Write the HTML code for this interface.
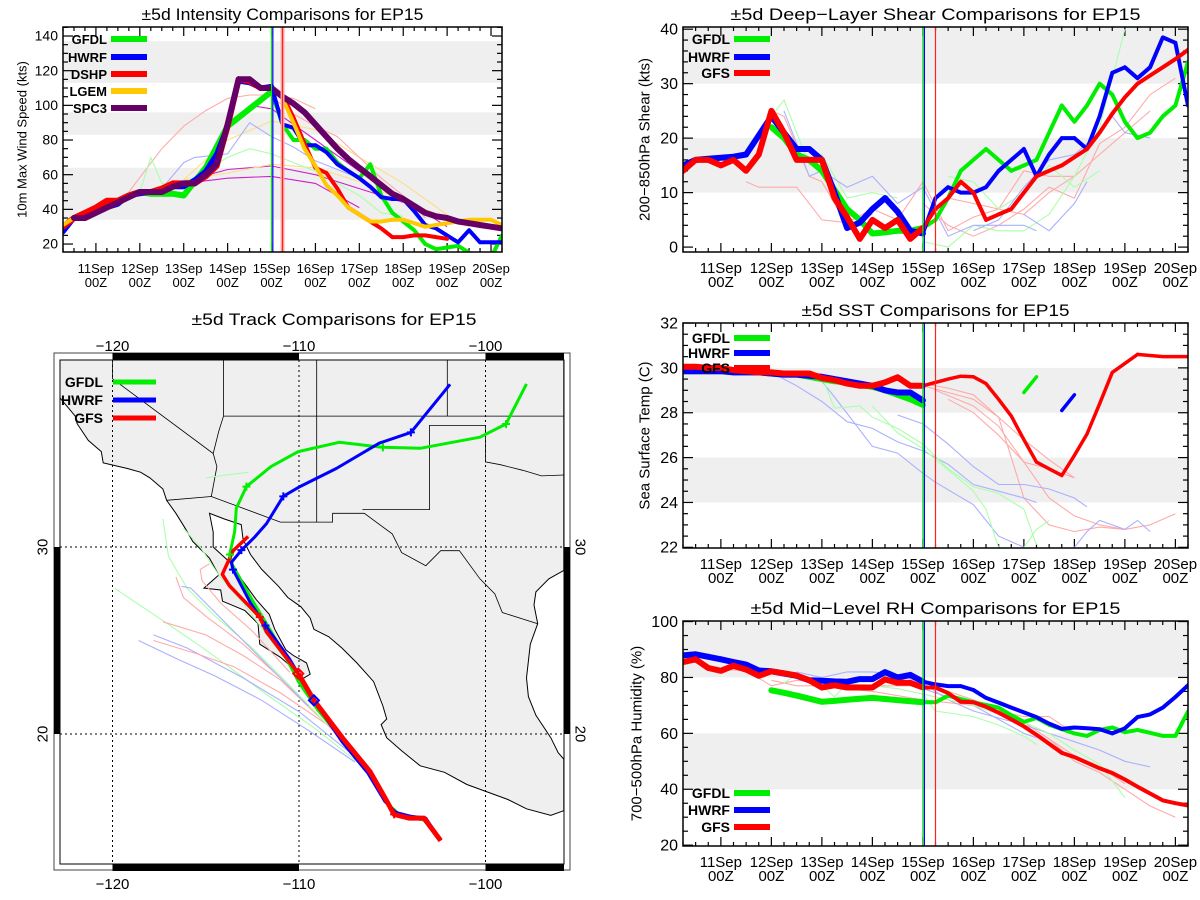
<!DOCTYPE html>
<html><head><meta charset="utf-8"><title>EP15 ±5d Comparisons</title>
<style>
html,body{margin:0;padding:0;background:#fff;}
svg{display:block;font-family:"Liberation Sans",Arial,sans-serif;}
</style></head>
<body>
<svg id="chart" xmlns="http://www.w3.org/2000/svg" width="1200" height="900" viewBox="0 0 1200 900">
<rect x="0" y="0" width="1200" height="900" fill="#fff"/>
<defs id="defs"></defs>
</svg>
<script>
// ---------- shared 6-hourly time axis (day of Sep) ----------
const T6 = [10.25,10.5,10.75,11,11.25,11.5,11.75,12,12.25,12.5,12.75,13,13.25,13.5,13.75,14,14.25,14.5,14.75,15,15.25,15.5,15.75,16,16.25,16.5,16.75,17,17.25,17.5,17.75,18,18.25,18.5,18.75,19,19.25,19.5,19.75,20,20.25];
const dayTicks = [11,12,13,14,15,16,17,18,19,20];
const dayTickLabels = ["11Sep","12Sep","13Sep","14Sep","15Sep","16Sep","17Sep","18Sep","19Sep","20Sep"];
const refTimes = [15.0, 15.03, 15.25];

// ---------- intensity ----------
const intGFDL = [30,35,37,40,43,45,48,50,49,49,49,48,56,64,76,88,93,98,103,108,89,80,80,75,75,67,62,58,66,48,38,33,28,20,17,18,19,15,12,12,25];
const intHWRF = [27,35,37,39,41,43,48,49,50,52,53,53,57,62,72,88,114,113,110,111,89,87,77,77,73,66,62,58,53,47,46,46,39,31,29,25,21,28,21,21,21];
const intDSHP = [30,35,38,41,45,45,48,50,50,52,55,55,55,59,65,88,115,114,110,110,106,93,78,64,61,52,41,37,33,29,24,24,25,25,24,23,null,null,null,null,null];
const intLGEM = [31,35,35,38,41,44,47,50,50,50,53,55,55,60,66,89,115,115,110,110,104,90,75,65,54,48,41,37,33,33,34,34,32,30,31,32,33,34,34,34,31];
const intSPC3 = [null,35,35,38,41,44,47,50,50,50,53,55,55,60,66,89,115,115,110,110,105,101,96,89,82,75,69,64,59,54,49,46,42,38,36,35,33,32,31,30,29];
const intThinT = [[11.75,12.5,13,13.5,14,14.5,15,15.5,16],[13,14,15,16,17],[13,14,15,16,17,18],[14.5,15,16,17,18,19],[13,14,15,16,17,18,19],[13,14,15,16,17,18,19,19.5],[12.5,13,13.25,14,14.5,15,15.5,16,17],[12,12.25,12.5,13,14,14.5,15,16,17,17.5,18],[15,15.5,16,16.5,17,17.5,18,18.5]];
const intThinV = [[50,75,88,97,104,106,106,104,98],[55,58,59,55,41],[56,63,65,60,52,44],[100,98,80,62,46,30],[57,80,91,86,70,55,37],[57,61,66,64,56,45,35,30],[52,67,70,72,90,82,76,68,58],[50,70,55,55,70,75,72,62,48,38,36],[105,95,88,82,70,58,48,35]];
const intThinC = ["#ffaaaa","#cc22cc","#cc22cc","#cc22cc","#ffdd88","#ffdd88","#aab0ff","#aaffaa","#ffaaaa"];

// ---------- shear ----------
const shrGFDL = [null,null,null,null,null,null,null,22,20,17,16,14,10.5,7,5,2.5,2.7,3,3,3.5,5,9,14,16,18,16,14,15,16,21,26,23,26,30,28,23,20,21,24,26,34];
const shrHWRF = [15,16,16.2,16.4,16.6,17,20.5,24,21,18,18,16,10,3.5,4.5,7,9,6.5,3,2.5,9,11,10,10,11,14,16,18,13,17,20,20,18,24,32,33,31,33,38.5,37.5,26];
const shrGFS  = [14,16,16,15,16,14,17,25,21,16,16,16,9,5.5,1.5,5,3.5,5,1.5,3.5,7,9,12,10,5,6,7,10,13,14,15,16.5,18,21,24.5,27.5,30,31.5,33,34.5,36.2];
const shrThinT = [[11.5,11.75,12.5,13,13.5,14,14.5,15,15.5,16,16.5,17,17.5,18],[12,12.25,12.75,13,13.5,14],[15,15.5,16,16.5,17,17.5,18,18.5,19,19.5,20],[15.5,16,16.5,17,17.5,18,18.5,19,19.5],[12,12.25,12.75,13,13.5,14,14.5],[15,15.5,16,16.5,17,17.5,18,18.5,19],[15.5,16,16.5,17,17.5,18,18.5],[12.25,12.75,13,13.5,14,14.5,15,15.5,16,16.5,17,17.25],[16,16.5,17,17.5,18,18.5,18.75,19,19.5],[17,17.5,18,18.25]];
const shrThinV = [[12,11,11,5,4.5,7,5,12,3,5.5,7,14,13,13],[25,24,13,12,4,6],[8,4,2,4,7,11,9,19,22,28,31],[9,8,7,6,10,13,17,21,25],[24,27,15,17,9,10,9],[1,0,4,3,3,6,13,22,40],[13,12,7,10,15,11,14],[25,13,14,11,13,8,11,2,4,4,4,3],[3,5,11,16,17,21,24,21,20],[6,3,8,12]];
const shrThinC = ["#ffaaaa","#ffaaaa","#ffaaaa","#ffaaaa","#aaffaa","#aaffaa","#aaffaa","#aab0ff","#aab0ff","#aab0ff"];

// ---------- SST ----------
const sstGFDL = [29.85,29.85,29.85,29.85,29.8,29.8,29.8,29.75,29.7,29.7,29.6,29.5,29.4,29.35,29.25,29.15,29.0,28.8,28.6,28.35,null,null,null,null,null,null,null,28.9,29.6,null,null,null,null,null,null,null,null,null,null,null,null];
const sstHWRF = [29.85,29.85,29.85,29.85,29.8,29.8,29.8,29.75,29.7,29.7,29.65,29.6,29.5,29.4,29.3,29.2,29.0,28.9,28.9,28.55,null,null,null,null,null,null,null,null,null,null,28.1,28.8,null,null,null,null,null,null,null,null,null];
const sstGFS  = [30.05,30.05,30.0,30.0,29.9,29.85,29.8,29.8,29.75,29.75,29.75,29.55,29.45,29.3,29.2,29.2,29.35,29.58,29.2,29.2,29.35,29.5,29.63,29.6,29.3,28.6,27.85,26.8,25.8,25.5,25.2,26.1,27.05,28.4,29.8,30.2,30.6,30.55,30.5,30.5,30.5];
const sstThinT = [[15,15.5,16,16.5,17,17.5,18],[15.25,16,16.5,17,17.5,18,18.5,19,19.5,20],[15,15.5,16,16.5,16.75,17,17.5,18,18.5,19],[15.5,16,16.5,17,17.5,18],[12,12.5,13,13.5,14,14.5,15,15.5,16,16.5,17,17.25],[13,13.25,14,14.5,15,15.25,16,16.5,17],[14.5,15,15.5,16,16.5,17,17.5,18,18.25],[18,18.25,18.5,19,19.25,19.5],[13,13.25,13.75,14,14.5,15,15.5,16,16.5,17,17.25],[14,14.5,15,16,16.25,16.5],[17,17.25,17.5]];
const sstThinV = [[29.2,28.9,28.6,27.8,26.8,25.9,25.1],[29.0,28.3,27.4,25.8,24.2,23.4,23.0,22.8,23.0,23.5],[29.3,29.1,28.8,27.8,26.0,24.2,23.0,22.7,22.9,22.8],[28.6,28.0,27.0,25.8,25.5,25.1],[29.8,29.2,28.5,27.6,27.3,26.7,26.3,25.7,24.8,24.5,24.2,24.0],[29.4,28.7,26.5,26.2,25.3,24.9,23.9,22.5,22],[27.9,27.5,26.6,25.6,24.8,24.8,24.6,24.2,23.8],[22,22.7,23.2,22.8,23.2,22.7],[29.6,28.2,28.3,27.8,27.3,26.6,25.5,24.7,24.4,23.7,22.1],[28.3,27.1,26.4,24.5,23.7,22],[22,22.8,23.2]];
const sstThinC = ["#ffaaaa","#ffaaaa","#ffaaaa","#ffaaaa","#aab0ff","#aab0ff","#aab0ff","#aab0ff","#aaffaa","#aaffaa","#aaffaa"];

// ---------- RH ----------
const rhGFDL = [null,null,null,null,null,null,null,75.4,74.5,73.5,72.4,71.3,71.6,72,72.4,72.7,72.3,71.9,71.5,71.1,71.1,73.5,72.3,71.1,70.2,69.2,66.5,64.1,65.5,63.1,61.5,60,59.1,61.2,62.1,60.4,61.2,60.2,59.1,59.1,67.8];
const rhHWRF = [87.9,88.3,87.4,86.5,85.5,84.6,82.5,82.2,81.4,80.6,79,78.8,78.6,78.5,79.4,79.4,81.9,80,80.9,78.5,77.5,76.9,76.9,75.5,72.7,71,69.2,67.5,65.8,63.5,61.6,62.1,61.8,61.5,60,61.8,65.8,66.8,69.2,73,77.2];
const rhGFS  = [85.5,86.5,83.4,82.4,84.2,82.8,80.6,82.2,81.5,80.7,79,76.4,77.2,76.4,76.4,76.4,79.3,78.1,78.1,76.4,76.4,74.4,71.3,71.1,69.5,67.4,65,62.5,59.5,56.3,53,51.5,49.5,47.5,45.8,43.5,40.9,38.5,36,35,34.2];
const rhThinT = [[10.75,11.5,12,12.5,13,14,15,15.5,16,16.5,17,17.5,18,18.5,19,19.5,20],[12,12.5,13,14,15,16,17,17.5,18],[15,16,17,18,18.5,19],[12.5,13,13.5,14,14.5,15,15.5,16,17,17.5,18,18.5,19,19.5],[15,16,16.5,17,17.25],[12.25,12.5,13,13.25,13.5,14,14.5,15,15.25,16,16.5,17,17.25],[15,16,17,17.5,18,18.5,19]];
const rhThinV = [[83,82.5,77,79,78,77,77,75,72,68,64,58,50,46,40,34,30],[79,77,77,75,72,70,66,66,60],[76,70,64,52,48,42],[82,80,82,82,81,78,72,68,63,60,57,54,50,48],[76,70,65,60,58.5],[78,81,77,73,78,77,76,74,68,66,63,59,56],[74,70,64,60,54,49,37]];
const rhThinC = ["#ffaaaa","#ffaaaa","#ffaaaa","#aab0ff","#aab0ff","#aaffaa","#aaffaa"];

// ---------- track map (lon / lat) ----------
const gfdlLon = [-102.4,-103.3,-104.5,-105.3,-106.2,-107.5,-109.0,-110.04,-110.84,-111.83,-112.46,-113.54,-113.72,-113.45,-113.36,-112.82,-111.5,-110.04,-107.85,-105.5,-103.5,-100.3,-98.9,-97.8];
const gfdlLat = [14.3,15.4,15.6,16.3,17.8,19.5,21.3,22.81,24.38,26.04,27.08,28.96,29.58,30.83,32.08,33.23,34.3,35.1,35.6,35.33,35.28,35.87,36.58,38.72];
const hwrfLon = [-102.4,-103.2,-104.0,-104.8,-105.4,-106.3,-107.7,-109.2,-110.5,-111.8,-112.6,-113.54,-113.63,-113.09,-112.4,-111.74,-110.84,-109.95,-108.0,-105.7,-104.0,-101.9];
const hwrfLat = [14.3,15.5,15.6,15.8,16.4,17.9,19.6,21.8,24.0,25.8,27.0,28.79,29.17,29.83,30.5,31.25,32.71,33.23,34.2,35.55,36.13,38.7];
const gfsLon = [-102.4,-103.3,-104.1,-104.9,-105.4,-106.2,-107.6,-109.2,-110.04,-111.74,-112.10,-113.72,-114.11,-113.54,-112.73];
const gfsLat = [14.3,15.5,15.5,15.7,16.6,18.0,19.7,21.8,23.23,25.46,26.25,27.92,28.54,29.79,30.56];
const thinTrkLon = [[-119.9,-117.5,-115,-112,-109,-106.5],[-118.6,-116.5,-114.5,-112,-109.5,-107],[-117.8,-116,-113,-110,-107],[-117.3,-115,-113,-111,-108.5,-106.5],[-117.8,-115.5,-113.5,-111,-108.5],[-117.3,-117,-116,-114.5,-112.5,-110.5,-108.5],[-116.2,-115.3,-114.3,-113,-111.5,-110],[-115,-112.7],[-114.8,-115.3,-115.2,-114.2,-112.5,-110.5],[-116.6,-116.2,-115,-113,-111],[-116.3,-115.8,-115,-113.5,-111.5,-109.5]];
const thinTrkLat = [[27.8,26.2,24.5,22.3,20.2,18.2],[25.0,24.0,23.1,21.8,20.2,18.5],[25.3,24.6,23.0,21.2,18.8],[26.0,25.3,24.2,22.9,20.5,18.5],[25.0,24.3,23.6,22.2,20.5],[31.5,29.5,27.8,26.3,24.6,22.6,20.5],[31.0,30.0,28.5,27,25,23],[33.7,34.0],[29.1,28.8,28.2,27.0,25.5,23.3],[28.4,27.3,26.3,24.8,23],[27.9,27.8,27.0,25.5,23.5,21.5]];
const thinTrkC = ["#aaffaa","#aab0ff","#aab0ff","#ffaaaa","#ffaaaa","#aaffaa","#aaffaa","#aaffaa","#ffaaaa","#ffaaaa","#aab0ff"];
const landLon = [-122.84,-95.8,-95.8,-96.6,-97.3,-97.4,-97.2,-97.6,-97.8,-97.7,-97.3,-96.5,-96.1,-95.8,-95.8,-96.5,-97.8,-98.8,-99.9,-101.0,-102.2,-103.5,-104.5,-105.3,-105.6,-105.3,-105.5,-106.0,-106.9,-107.7,-108.4,-109.2,-109.4,-109.9,-110.6,-111.1,-112.0,-112.6,-113.0,-113.1,-114.0,-114.8,-114.6,-114.6,-113.5,-113.1,-112.3,-111.6,-111.3,-110.7,-110.3,-109.6,-109.4,-109.9,-110.3,-111.0,-112.1,-112.2,-112.9,-114.1,-114.2,-115.1,-114.3,-114.8,-115.7,-116.1,-116.6,-117.1,-117.3,-118.0,-118.5,-119.2,-120.5,-120.6,-121.3,-121.9,-122.0,-122.5,-122.84];
const landLat = [40.0,40.0,28.75,28.3,27.6,26.9,25.9,24.8,23.0,22.0,21.0,19.8,19.0,18.65,15.9,15.65,16.0,16.5,16.9,17.3,17.95,18.3,19.1,19.8,20.5,20.8,21.5,22.8,23.8,24.6,25.2,25.6,26.2,26.8,27.3,27.9,28.8,29.6,30.4,31.2,31.5,31.8,30.8,30.0,29.0,28.3,27.2,26.4,25.6,24.5,24.2,23.8,23.2,22.9,23.5,24.1,24.8,25.9,26.6,27.1,27.7,27.8,28.5,29.4,30.3,31.0,31.8,32.5,33.1,33.7,34.0,34.2,34.5,35.1,35.7,36.6,37.0,37.6,38.0];
const borderLon = [[-117.1,-114.7,-111,-108.2,-108.2,-106.5,-105,-104.5,-103.2,-102.4,-101.4,-100.3,-99.5,-99.1,-97.2],[-120,-120,-114.6,-114.4,-114.7],[-114.05,-114.05,-114.3,-114.6],[-114.05,-95.8],[-109.05,-109.05],[-102.05,-102.05],[-106.6,-103,-103,-100,-100,-99.2,-98,-97,-95.8]];
const borderLat = [[32.5,32.7,31.33,31.33,31.8,31.8,30.7,29.7,29.0,29.8,29.8,28.3,27.5,26.5,25.9],[40,39,35.0,34.3,32.7],[40,37,36.2,35.0],[37,37],[40,31.33],[40,37],[32,32,36.5,36.5,34.55,34.4,34.1,33.8,33.85]];

// ---------------- drawing ----------------
const NS = "http://www.w3.org/2000/svg";
const svg = document.getElementById("chart");
const defs = document.getElementById("defs");
function mk(tag, attrs, parent){
  const e = document.createElementNS(NS, tag);
  for (const k in attrs) e.setAttribute(k, attrs[k]);
  (parent || svg).appendChild(e);
  return e;
}
let clipCount = 0;
function clipFor(x0,y0,x1,y1){
  const id = "clip" + (clipCount++);
  const cp = mk("clipPath", {id:id}, defs);
  mk("rect", {x:x0,y:y0,width:x1-x0,height:y1-y0}, cp);
  return "url(#" + id + ")";
}

function makePanel(p){
  const g = mk("g", {});
  
  
  const fs = p.fs || 15;
  p.sx = d => p.x0 + (d - 10.25) / 10 * (p.x1 - p.x0);
  p.sy = v => p.y1 - (v - p.ymin) / (p.ymax - p.ymin) * (p.y1 - p.y0);
  p.g = g;
  p.clip = clipFor(p.x0, p.y0, p.x1, p.y1);
  p.bands.forEach(b => {
    const ya = Math.max(p.y0, p.sy(b[1])), yb = Math.min(p.y1, p.sy(b[0]));
    const r = mk("rect", {x:p.x0, y:ya, width:p.x1-p.x0, height:yb-ya, fill:"#efefef"}, g);
    
    
  });
  const t = mk("text", {x:(p.x0+p.x1)/2, y:p.titleY, "text-anchor":"middle", "font-size":17, textLength:p.titleW, lengthAdjust:"spacingAndGlyphs", fill:"#000"}, g);
  t.textContent = p.title;
  
  
  const cy = (p.y0 + p.y1) / 2;
  const yt = mk("text", {x:p.ytX, y:cy, "text-anchor":"middle", "dominant-baseline":"central", "font-size":fs, transform:"rotate(-90 " + p.ytX + " " + cy + ")"}, g);
  yt.textContent = p.ytitle;
  
  
  for (let v = p.ymin0; v <= p.ymax0 + 1e-6; v += p.yMinor) {
    const y = p.sy(v);
    if (y < p.y0 - 0.5 || y > p.y1 + 0.5) continue;
    const major = Math.abs(Math.round(v / p.yMajor) * p.yMajor - v) < 1e-6;
    const L = major ? 10 : 5;
    const a = mk("line", {x1:p.x0, x2:p.x0+L, y1:y, y2:y, stroke:"#000", "stroke-width":1.2}, g);
    
    
    const b = mk("line", {x1:p.x1, x2:p.x1-L, y1:y, y2:y, stroke:"#000", "stroke-width":1.2}, g);
    
    
    if (major) {
      const lt = mk("text", {x:p.x0-5, y:y+fs*0.36, "text-anchor":"end", "font-size":fs+1}, g);
      lt.textContent = String(Math.round(v));
      
      
    }
  }
  for (let i = 0; i < T6.length; i++) {
    const d = T6[i], x = p.sx(d);
    const major = Math.abs(d - Math.round(d)) < 1e-6;
    const L = major ? 9 : 4;
    const a = mk("line", {x1:x, x2:x, y1:p.y1, y2:p.y1-L, stroke:"#000", "stroke-width":1.2}, g);
    
    
    const b = mk("line", {x1:x, x2:x, y1:p.y0, y2:p.y0+L, stroke:"#000", "stroke-width":1.2}, g);
    
    
  }
  dayTicks.forEach((d, i) => {
    const x = p.sx(d);
    const l1 = mk("text", {x:x, y:p.y1+21, "text-anchor":"middle", "font-size":fs}, g);
    l1.textContent = dayTickLabels[i];
    
    
    const l2 = mk("text", {x:x, y:p.y1+35, "text-anchor":"middle", "font-size":fs}, g);
    l2.textContent = "00Z";
    
    
  });
  p.data = mk("g", {"clip-path":p.clip}, g);
  
  
  return p;
}

function thinLine(p, ts, vs, color, name){
  let d = "";
  for (let i = 0; i < ts.length; i++) d += (i ? "L" : "M") + p.sx(ts[i]).toFixed(1) + " " + p.sy(vs[i]).toFixed(1);
  const e = mk("path", {d:d, fill:"none", stroke:color, "stroke-width":1.1}, p.data);
  
  
}
function series(p, vals, color, wThick, wThin, split, name){
  let a = "", b = "";
  for (let i = 1; i < T6.length; i++) {
    if (vals[i] == null || vals[i-1] == null) continue;
    const seg = "M" + p.sx(T6[i-1]).toFixed(1) + " " + p.sy(vals[i-1]).toFixed(1) + "L" + p.sx(T6[i]).toFixed(1) + " " + p.sy(vals[i]).toFixed(1);
    if (T6[i] <= split + 1e-6) a += seg; else b += seg;
  }
  if (a) {
    const e = mk("path", {d:a, fill:"none", stroke:color, "stroke-width":wThick, "stroke-linejoin":"round", "stroke-linecap":"round"}, p.data);
    
    
  }
  if (b) {
    const e = mk("path", {d:b, fill:"none", stroke:color, "stroke-width":wThin, "stroke-linejoin":"round", "stroke-linecap":"round"}, p.data);
    
    
  }
}
function refLines(p, halo){
  const cols = ["#00ee00", "#0000ff", "#ff2020"];
  refTimes.forEach((t, i) => {
    const x = p.sx(t);
    if (halo && i === 2) {
      const h = mk("line", {x1:x, x2:x, y1:p.y0, y2:p.y1, stroke:"#ffaaaa", "stroke-width":4}, p.g);
      
      
    }
    const e = mk("line", {x1:x, x2:x, y1:p.y0, y2:p.y1, stroke:cols[i], "stroke-width":1.2}, p.g);
    
    
  });
}
function frame(p){
  const r = mk("rect", {x:p.x0, y:p.y0, width:p.x1-p.x0, height:p.y1-p.y0, fill:"none", stroke:"#000", "stroke-width":1.5}, p.g);
  
  
}
function legend(p, x, ys, names, colors, fs){
  names.forEach((n, i) => {
    const t = mk("text", {x:x, y:ys[i]+5, "text-anchor":"end", "font-size":fs || 14, "font-weight":"bold"}, p.g);
    t.textContent = n;
    
    
    const l = mk("line", {x1:x+4, x2:x+40, y1:ys[i], y2:ys[i], stroke:colors[i], "stroke-width":6}, p.g);
    
    
  });
}

// ---- intensity panel ----
const pI = makePanel({name:"intensity-panel", x0:63, x1:502, y0:27, y1:252, ymin:15.4, ymax:145.2, ymin0:20, ymax0:145, yMajor:20, yMinor:5, fs:13,
  bands:[[34,64],[83,96],[113,137]], title:"±5d Intensity Comparisons for EP15", titleY:20, titleW:282, ytitle:"10m Max Wind Speed (kts)", ytX:22});
intThinT.forEach((ts, i) => thinLine(pI, ts, intThinV[i], intThinC[i], 'intensity-ensemble-line'));
series(pI, intGFDL, "#00ee00", 6, 4, 15, "gfdl");
series(pI, intHWRF, "#0000ff", 5, 4, 15, "hwrf");
series(pI, intDSHP, "#ff0000", 6, 4, 15, "dshp");
series(pI, intLGEM, "#ffc800", 4, 4, 15, "lgem");
series(pI, intSPC3, "#660066", 6, 6, 15, "spc3");
refLines(pI, true);
frame(pI);
legend(pI, 107, [39,57,74,91,108], ["GFDL","HWRF","DSHP","LGEM","SPC3"], ["#00ee00","#0000ff","#ff0000","#ffc800","#660066"], 13);

// ---- shear panel ----
const pS = makePanel({name:"shear-panel", x0:683, x1:1188, y0:27, y1:252, ymin:-0.9, ymax:40.4, ymin0:0, ymax0:40, yMajor:10, yMinor:2,
  bands:[[10,20],[30,40.4]], title:"±5d Deep−Layer Shear Comparisons for EP15", titleY:20, titleW:410, ytitle:"200−850hPa Shear (kts)", ytX:645});
shrThinT.forEach((ts, i) => thinLine(pS, ts, shrThinV[i], shrThinC[i], 'shear-ensemble-line'));
series(pS, shrGFDL, "#00ee00", 6, 4, 15, "gfdl");
series(pS, shrHWRF, "#0000ff", 6, 4, 15, "hwrf");
series(pS, shrGFS, "#ff0000", 6, 4, 15, "gfs");
refLines(pS, false);
frame(pS);
legend(pS, 730, [39,57,73], ["GFDL","HWRF","GFS"], ["#00ee00","#0000ff","#ff0000"]);

// ---- SST panel ----
const pT = makePanel({name:"sst-panel", x0:683, x1:1188, y0:323, y1:548, ymin:21.97, ymax:32.0, ymin0:22, ymax0:32, yMajor:2, yMinor:0.5,
  bands:[[24,26],[28,30]], title:"±5d SST Comparisons for EP15", titleY:316, titleW:268, ytitle:"Sea Surface Temp (C)", ytX:645});
sstThinT.forEach((ts, i) => thinLine(pT, ts, sstThinV[i], sstThinC[i], 'sst-ensemble-line'));
series(pT, sstGFDL, "#00ee00", 6, 3.5, 15, "gfdl");
series(pT, sstHWRF, "#0000ff", 6, 3.5, 15, "hwrf");
series(pT, sstGFS, "#ff0000", 6, 3.5, 15, "gfs");
refLines(pT, false);
frame(pT);
legend(pT, 730, [338,353,368], ["GFDL","HWRF","GFS"], ["#00ee00","#0000ff","#ff0000"]);

// ---- RH panel ----
const pR = makePanel({name:"rh-panel", x0:683, x1:1188, y0:621, y1:846, ymin:19.7, ymax:100.2, ymin0:20, ymax0:100, yMajor:20, yMinor:5,
  bands:[[40,60],[80,100]], title:"±5d Mid−Level RH Comparisons for EP15", titleY:614, titleW:370, ytitle:"700−500hPa Humidity (%)", ytX:637});
rhThinT.forEach((ts, i) => thinLine(pR, ts, rhThinV[i], rhThinC[i], 'rh-ensemble-line'));
series(pR, rhGFDL, "#00ee00", 6, 4, 15, "gfdl");
series(pR, rhHWRF, "#0000ff", 6, 4, 15, "hwrf");
series(pR, rhGFS, "#ff0000", 6, 4, 15, "gfs");
refLines(pR, false);
frame(pR);
legend(pR, 730, [793,810,827], ["GFDL","HWRF","GFS"], ["#00ee00","#0000ff","#ff0000"]);

// ---- track map ----
const M = {x0:60, x1:564, y0:360, y1:864};
const px = lon => 299 + (lon + 110) * 18.65;
const py = lat => 547 - (lat - 30) * 18.7;
const mg = mk("g", {});


const mt = mk("text", {x:334, y:325, "text-anchor":"middle", "font-size":17, textLength:285, lengthAdjust:"spacingAndGlyphs"}, mg);
mt.textContent = "±5d Track Comparisons for EP15";


const ob = mk("rect", {x:54, y:353, width:516, height:517, fill:"#fff", stroke:"#444", "stroke-width":1}, mg);


const mclip = clipFor(M.x0, M.y0, M.x1, M.y1);
const md = mk("g", {"clip-path":mclip}, mg);


function pathLL(lons, lats, close){
  let d = "";
  for (let i = 0; i < lons.length; i++) d += (i ? "L" : "M") + px(lons[i]).toFixed(1) + " " + py(lats[i]).toFixed(1);
  return d + (close ? "Z" : "");
}
const land = mk("path", {d:pathLL(landLon, landLat, true), fill:"#efefef", stroke:"#000", "stroke-width":1}, md);


borderLon.forEach((bl, i) => {
  const b = mk("path", {d:pathLL(bl, borderLat[i], false), fill:"none", stroke:"#000", "stroke-width":0.8}, md);
  
  
});
[-120,-110,-100].forEach(l => {
  const e = mk("line", {x1:px(l), x2:px(l), y1:M.y0, y2:M.y1, stroke:"#000", "stroke-width":1, "stroke-dasharray":"2,3"}, md);
  
  
});
[20,30,40].forEach(l => {
  const e = mk("line", {x1:M.x0, x2:M.x1, y1:py(l), y2:py(l), stroke:"#000", "stroke-width":1, "stroke-dasharray":"2,3"}, md);
  
  
});
thinTrkLon.forEach((tl, i) => {
  const e = mk("path", {d:pathLL(tl, thinTrkLat[i], false), fill:"none", stroke:thinTrkC[i], "stroke-width":1.1}, md);
  
  
});
const gT = mk("path", {d:pathLL(gfdlLon, gfdlLat, false), fill:"none", stroke:"#00ee00", "stroke-width":3, "stroke-linejoin":"round"}, md);


const hT = mk("path", {d:pathLL(hwrfLon, hwrfLat, false), fill:"none", stroke:"#0000ff", "stroke-width":3, "stroke-linejoin":"round"}, md);


const rA = mk("path", {d:pathLL(gfsLon.slice(0,9), gfsLat.slice(0,9), false), fill:"none", stroke:"#ff0000", "stroke-width":5, "stroke-linejoin":"round"}, md);


const rB = mk("path", {d:pathLL(gfsLon.slice(8), gfsLat.slice(8), false), fill:"none", stroke:"#ff0000", "stroke-width":3.5, "stroke-linejoin":"round"}, md);


function plus(lon, lat, c){
  const x = px(lon), y = py(lat);
  const e = mk("path", {d:"M"+(x-4)+" "+y+"H"+(x+4)+"M"+x+" "+(y-4)+"V"+(y+4), stroke:c, "stroke-width":2}, md);
  
  
}
[[-112.82,33.23],[-105.5,35.33],[-98.9,36.58],[-113.7,29.6]].forEach(q => plus(q[0], q[1], "#00ee00"));
[[-110.84,32.71],[-104.0,36.13],[-113.09,29.83],[-113.54,28.79],[-111.8,25.8]].forEach(q => plus(q[0], q[1], "#0000ff"));
[[-104.9,15.7],[-112.1,26.25]].forEach(q => plus(q[0], q[1], "#ff0000"));
function diamond(lon, lat, c){
  const x = px(lon), y = py(lat);
  const e = mk("path", {d:"M"+x+" "+(y-5)+"L"+(x+5)+" "+y+"L"+x+" "+(y+5)+"L"+(x-5)+" "+y+"Z", fill:"none", stroke:c, "stroke-width":2}, md);
  
  
}
diamond(-110.04, 23.23, "#ff0000");
diamond(-109.2, 21.8, "#0000ff");
const ib = mk("rect", {x:M.x0, y:M.y0, width:M.x1-M.x0, height:M.y1-M.y0, fill:"none", stroke:"#000", "stroke-width":1}, mg);


function bar(x, y, w, h){
  const e = mk("rect", {x:x, y:y, width:w, height:h, fill:"#000"}, mg);
  
  
}
bar(px(-120), 353, px(-110)-px(-120), 7);
bar(px(-100), 353, M.x1-px(-100), 7);
bar(px(-120), 864, px(-110)-px(-120), 7);
bar(px(-100), 864, M.x1-px(-100), 7);
bar(54, py(30), 6, py(20)-py(30));
bar(564, py(30), 6, py(20)-py(30));
[-120,-110,-100].forEach(l => {
  const a = mk("text", {x:px(l), y:351, "text-anchor":"middle", "font-size":15}, mg);
  a.textContent = "−" + Math.abs(l);
  
  
  const b = mk("text", {x:px(l), y:889, "text-anchor":"middle", "font-size":15}, mg);
  b.textContent = "−" + Math.abs(l);
  
  
});
[20,30].forEach(l => {
  const y = py(l);
  const a = mk("text", {x:43, y:y, "text-anchor":"middle", "dominant-baseline":"central", "font-size":15, transform:"rotate(-90 43 "+y+")"}, mg);
  a.textContent = String(l);
  
  
  const b = mk("text", {x:580, y:y, "text-anchor":"middle", "dominant-baseline":"central", "font-size":15, transform:"rotate(90 580 "+y+")"}, mg);
  b.textContent = String(l);
  
  
});
["GFDL","HWRF","GFS"].forEach((n, i) => {
  const y = [382,400,418][i];
  const t = mk("text", {x:103, y:y+5, "text-anchor":"end", "font-size":14, "font-weight":"bold"}, mg);
  t.textContent = n;
  
  
  const l = mk("line", {x1:113, x2:156, y1:y, y2:y, stroke:["#00ee00","#0000ff","#ff0000"][i], "stroke-width":5}, mg);
  
  
});
</script>
</body></html>
